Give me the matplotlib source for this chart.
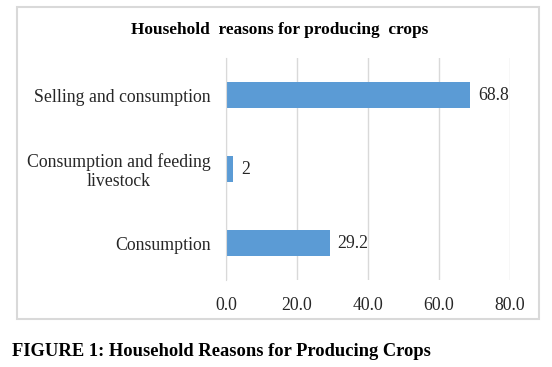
import matplotlib.pyplot as plt
from matplotlib.patches import Rectangle

# Data
categories = ["Consumption", "Consumption and feeding\nlivestock", "Selling and consumption"]
values = [29.2, 2, 68.8]
value_labels = ["29.2", "2", "68.8"]
xticks = [0, 20, 40, 60, 80]

plt.rcParams['font.family'] = ['Liberation Serif', 'DejaVu Serif']

fig = plt.figure(figsize=(5.52, 3.67), dpi=100)
W, H = 552, 367

# outer chart border
fig.patches.append(Rectangle((17 / W, 1 - 319 / H), (539 - 17) / W, (319 - 7) / H,
                             transform=fig.transFigure, fill=False,
                             edgecolor="#d9d9d9", linewidth=1.5))

ax = fig.add_axes([226 / W, 1 - 280 / H, (510 - 226) / W, (280 - 58) / H])
ax.barh(range(len(categories)), values, height=0.355, color="#5b9bd5")

for i, (v, lab) in enumerate(zip(values, value_labels)):
    ax.text(v + 2.2, i, lab, va="center", ha="left", fontsize=12.8, color="#262626")

ax.set_xlim(0, 80)
ax.set_ylim(-0.5, 2.5)
ax.set_xticks(xticks)
ax.set_xticklabels([f"{t:.1f}" for t in xticks], fontsize=12.8, color="#262626")
ax.set_yticks(range(len(categories)))
ax.set_yticklabels(categories, fontsize=12.8, color="#262626", ha="right",
                   multialignment="center", linespacing=1.1)
ax.tick_params(axis="y", length=0, pad=11)
ax.tick_params(axis="x", length=0, pad=12)

ax.grid(axis="x", color="#d9d9d9", linewidth=1)
ax.set_axisbelow(True)
for s in ["top", "right", "bottom"]:
    ax.spines[s].set_visible(False)
ax.spines["left"].set_color("#d9d9d9")

fig.text(280 / W, 1 - 30 / H, "Household  reasons for producing  crops",
         ha="center", va="center", fontsize=12.4, fontweight="bold")
fig.text(12 / W, 1 - 351 / H, "FIGURE 1: Household Reasons for Producing Crops",
         ha="left", va="center", fontsize=13.3, fontweight="bold")

fig.savefig("out.png", dpi=100)
